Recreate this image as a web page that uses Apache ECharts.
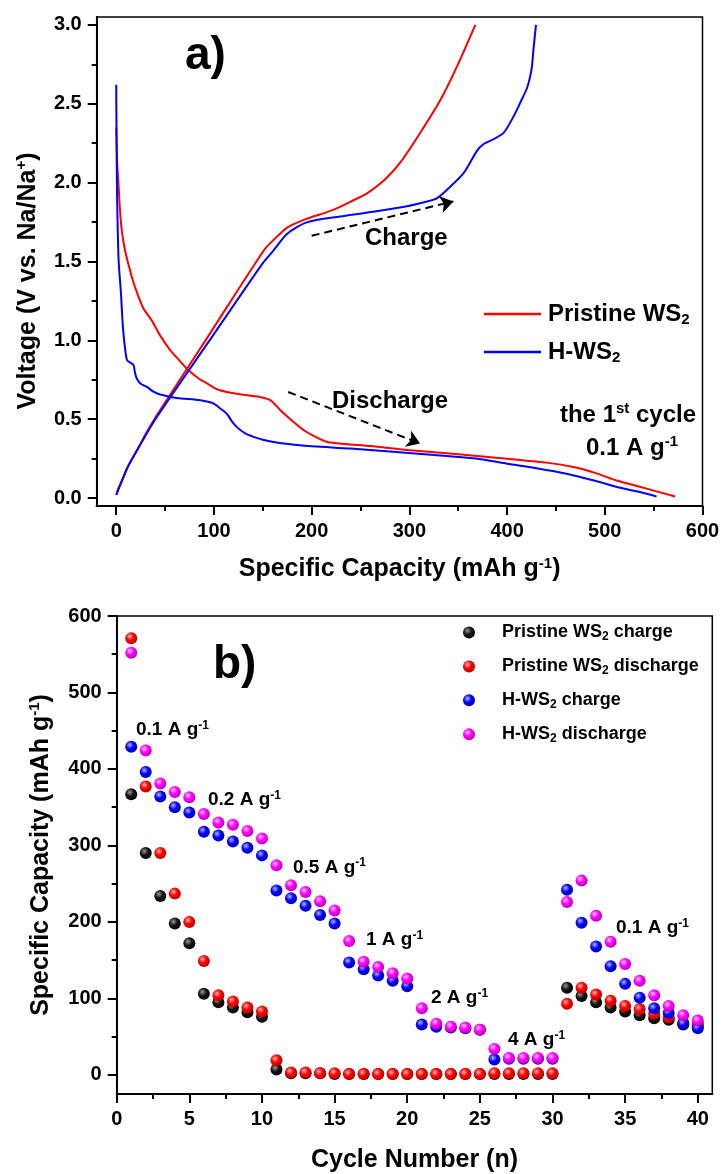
<!DOCTYPE html>
<html><head><meta charset="utf-8">
<script src="https://cdn.jsdelivr.net/npm/echarts@6/dist/echarts.min.js"></script>
<style>html,body{margin:0;padding:0;background:#fff}#c{width:723px;height:1174px}</style>
</head><body><div id="c"></div>
<script>
const FONT = "'Liberation Sans', Arial, sans-serif";

// ---------- (a) charge/discharge profiles: [capacity mAh/g, voltage V] ----------
const pristineDischarge = [[0,2.35],[1,2.12],[2.4,1.98],[4,1.81],[6,1.68],[9,1.57],[13,1.47],[17,1.38],[22,1.29],[28,1.2],[36,1.13],[45,1.03],[55,0.94],[65,0.87],[74,0.81],[85,0.755],[93,0.727],[103,0.69],[113,0.673],[125,0.66],[134,0.652],[148,0.64],[158,0.62],[168,0.557],[180,0.49],[192,0.43],[205,0.385],[216,0.356],[235,0.343],[260,0.33],[301,0.303],[350,0.278],[400,0.25],[440,0.225],[468,0.197],[490,0.16],[512,0.112],[540,0.065],[572,0.01]];
const pristineCharge = [[0,0.02],[2,0.06],[5.8,0.11],[12,0.2],[21,0.3],[30,0.405],[40,0.51],[95,1.035],[151,1.57],[161,1.637],[175,1.715],[192,1.764],[222,1.827],[240,1.88],[257,1.934],[275,2.02],[291,2.13],[311,2.315],[332,2.527],[349,2.74],[367.5,3.0]];
const hDischarge = [[0,2.62],[0.3,2.3],[0.7,2.0],[1.2,1.8],[2.4,1.51],[4.8,1.3],[6.8,1.086],[9,0.95],[11,0.875],[14,0.86],[17.7,0.843],[19,0.8],[21,0.758],[25,0.725],[31.4,0.705],[38,0.675],[45,0.657],[62,0.635],[86,0.62],[99.6,0.6],[106,0.57],[113,0.536],[118,0.49],[123.5,0.45],[132,0.41],[140.5,0.388],[150,0.37],[161,0.356],[188,0.335],[239.5,0.314],[280,0.295],[331.6,0.27],[370,0.25],[400,0.218],[430,0.19],[461,0.155],[490,0.11],[512.5,0.07],[535,0.04],[553,0.01]];
const hCharge = [[0,0.02],[2,0.05],[5.8,0.11],[12,0.2],[21,0.3],[40,0.5],[95,0.995],[150,1.49],[161,1.57],[174.7,1.675],[195,1.748],[229,1.785],[263,1.815],[297.5,1.85],[318,1.88],[328,1.9],[338.5,1.955],[355.5,2.06],[369,2.2],[376,2.245],[386,2.275],[396.4,2.315],[406.7,2.42],[415,2.527],[420.4,2.6],[423.7,2.675],[425.5,2.74],[427,2.845],[429.6,3.0]];
// arrows in data coordinates [capacity, voltage]
const chargeArrow = [[200,1.663],[345,1.881]];
const dischargeArrow = [[176,0.673],[311,0.346]];

const capTicks = [0,100,200,300,400,500,600];
const capMinor = [50,150,250,350,450,550];
const voltTicks = [0,0.5,1.0,1.5,2.0,2.5,3.0];
const voltMinor = [0.25,0.75,1.25,1.75,2.25,2.75];

// ---------- (b) rate performance ----------
const cycles = [1,2,3,4,5,6,7,8,9,10,11,12,13,14,15,16,17,18,19,20,21,22,23,24,25,26,27,28,29,30,31,32,33,34,35,36,37,38,39,40];
const pristineChargeCap = [367,290,234,198,172,106,95,88,82,76, 7,2,2,2,1,1,1,1,1,1, 1,1,1,1,1,1,1,1,1,1, 114,103,95,88,83,78,74,72,66,64];
const pristineDischargeCap = [571,377,290,237,200,149,104,96,88,83, 19,3,3,2,2,1,1,1,1,1, 1,1,1,1,1,2,2,2,2,2, 93,114,105,97,90,86,80,75,68,67];
const hChargeCap = [429,396,364,350,343,318,313,305,297,287, 241,231,221,209,198,147,138,130,123,116, 66,63,62,61,59,20,21,21,21,21, 242,199,168,142,119,101,87,81,67,61];
const hDischargeCap = [552,424,381,370,363,341,330,327,319,309, 274,248,239,227,215,175,148,141,133,126, 87,67,63,62,59,34,22,22,22,22, 226,254,208,174,145,123,104,90,78,71];

const cycTicks = [0,5,10,15,20,25,30,35,40];
const cycMinor = [2.5,7.5,12.5,17.5,22.5,27.5,32.5,37.5];
const specTicks = [0,100,200,300,400,500,600];
const specMinor = [50,150,250,350,450,550];

// ---------- helpers ----------
function rich(small, pad) {
  return {
    sub: {fontSize: small, fontWeight: 'bold', fontFamily: FONT, color: '#000', verticalAlign: 'top', padding: [pad, 0, 0, 0]},
    sup: {fontSize: small, fontWeight: 'bold', fontFamily: FONT, color: '#000', verticalAlign: 'top', padding: [0, 0, pad, 0]}
  };
}
function sphere(light, base, dark) {
  return {type: 'radial', x: 0.38, y: 0.35, r: 0.72,
    colorStops: [{offset: 0, color: light}, {offset: 0.45, color: base}, {offset: 1, color: dark}]};
}
const axisLineStyle = {color: '#000', width: 2};
const labelStyle = {fontSize: 20, fontWeight: 'bold', fontFamily: FONT, color: '#000', margin: 15};
function mainAxis(grid, min, max, ticks, pos, extra) {
  return Object.assign({
    gridIndex: grid, type: 'value', min: min, max: max, position: pos,
    axisLine: {show: true, onZero: false, lineStyle: axisLineStyle},
    axisTick: {show: false},
    axisLabel: Object.assign({customValues: ticks}, labelStyle),
    splitLine: {show: false}, minorTick: {show: false}
  }, extra);
}
function tickAxis(grid, min, max, ticks, pos, len) {
  return {
    gridIndex: grid, type: 'value', min: min, max: max, position: pos,
    axisLine: {show: false, onZero: false},
    axisTick: {show: true, length: len, lineStyle: {color: '#000', width: 2}, customValues: ticks},
    axisLabel: {show: false}, splitLine: {show: false}
  };
}
const nameStyle25 = {fontSize: 25, fontWeight: 'bold', fontFamily: FONT, color: '#000', rich: rich(15, 12)};

const chart = echarts.init(document.getElementById('c'), null, {renderer: 'canvas', width: 723, height: 1174});

function lineSeries(name, data, color, extra) {
  return Object.assign({
    name: name, type: 'line', xAxisIndex: 0, yAxisIndex: 0, data: data,
    symbol: 'none', showSymbol: false, smooth: 0.25,
    lineStyle: {color: color, width: 2}, itemStyle: {color: color},
    emphasis: {disabled: true}, silent: true, z: 3
  }, extra || {});
}
function scatterSeries(name, vals, fill) {
  return {
    name: name, type: 'scatter', xAxisIndex: 3, yAxisIndex: 3,
    data: cycles.map((c, i) => [c, vals[i]]),
    symbol: 'circle', symbolSize: 12,
    itemStyle: {color: fill, opacity: 1},
    emphasis: {disabled: true}, silent: true
  };
}
function arrowLine(a) {
  return [{coord: a[0]}, {coord: a[1]}];
}

const subFmt = name => name.replace('WS2', 'WS{sub|2}');

const option = {
  animation: false,
  backgroundColor: '#fff',
  grid: [
    {left: 96.7, top: 17, width: 605.8, height: 489, show: true, borderColor: '#000', borderWidth: 1.5, backgroundColor: 'transparent'},
    {left: 116.7, top: 616, width: 595.6, height: 480, show: true, borderColor: '#000', borderWidth: 1.5, backgroundColor: 'transparent'}
  ],
  xAxis: [
    mainAxis(0, -20, 600, capTicks, 'bottom', {name: 'Specific Capacity (mAh g{sup|-1})', nameLocation: 'middle', nameGap: 50, nameTextStyle: nameStyle25}),
    tickAxis(0, -20, 600, capTicks, 'bottom', 9),
    tickAxis(0, -20, 600, capMinor, 'bottom', 5),
    mainAxis(1, 0, 41, cycTicks, 'bottom', {name: 'Cycle Number (n)', nameLocation: 'middle', nameGap: 54, nameTextStyle: nameStyle25}),
    tickAxis(1, 0, 41, cycTicks, 'bottom', 9),
    tickAxis(1, 0, 41, cycMinor, 'bottom', 5)
  ],
  yAxis: [
    mainAxis(0, -0.05, 3.05, voltTicks, 'left', {name: 'Voltage (V vs. Na/Na{sup|+})', nameLocation: 'middle', nameGap: 55,
      nameTextStyle: Object.assign({}, nameStyle25, {padding: [0, 39, 0, 0]}),
      axisLabel: Object.assign({customValues: voltTicks, formatter: v => v.toFixed(1)}, labelStyle)}),
    tickAxis(0, -0.05, 3.05, voltTicks, 'left', 9),
    tickAxis(0, -0.05, 3.05, voltMinor, 'left', 5),
    mainAxis(1, -25, 600, specTicks, 'left', {name: 'Specific Capacity (mAh g{sup|-1})', nameLocation: 'middle', nameGap: 62, nameTextStyle: nameStyle25}),
    tickAxis(1, -25, 600, specTicks, 'left', 9),
    tickAxis(1, -25, 600, specMinor, 'left', 5)
  ],
  legend: [
    {
      data: ['Pristine WS2', 'H-WS2'], orient: 'vertical', left: 484, top: 302, padding: 0,
      icon: 'rect', itemWidth: 57, itemHeight: 2.5, itemGap: 12.4, selectedMode: false,
      formatter: subFmt,
      textStyle: {fontSize: 24, fontWeight: 'bold', fontFamily: FONT, color: '#000', padding: [0, 0, 0, 2], rich: rich(15, 12)}
    },
    {
      data: ['Pristine WS2 charge', 'Pristine WS2 discharge', 'H-WS2 charge', 'H-WS2 discharge'],
      orient: 'vertical', left: 463, top: 623.5, icon: 'circle', padding: 0,
      itemWidth: 12, itemHeight: 12, itemGap: 14.4, selectedMode: false,
      formatter: subFmt,
      textStyle: {fontSize: 18, fontWeight: 'bold', fontFamily: FONT, color: '#000', padding: [0, 0, 0, 22], rich: rich(12, 9)}
    }
  ],
  series: [
    lineSeries('Pristine WS2', pristineDischarge, '#ff0000', {
      markLine: {
        silent: true, symbol: ['none', 'arrow'], symbolSize: 13,
        lineStyle: {color: '#000', width: 2, type: [8, 5]}, label: {show: false},
        emphasis: {disabled: true},
        data: [arrowLine(chargeArrow), arrowLine(dischargeArrow)]
      }
    }),
    lineSeries('Pristine WS2', pristineCharge, '#ff0000'),
    lineSeries('H-WS2', hDischarge, '#0000ff'),
    lineSeries('H-WS2', hCharge, '#0000ff'),
    scatterSeries('Pristine WS2 charge', pristineChargeCap, sphere('#9a9a9a', '#151515', '#000000')),
    scatterSeries('Pristine WS2 discharge', pristineDischargeCap, sphere('#ffb4b4', '#ff0000', '#b00000')),
    scatterSeries('H-WS2 charge', hChargeCap, sphere('#b4b4ff', '#0000ff', '#0000a8')),
    scatterSeries('H-WS2 discharge', hDischargeCap, sphere('#ffc0ff', '#ff00ff', '#b000b0'))
  ],
  graphic: (function () {
    const items = [];
    function txt(x, y, text, size, align, small, pad) {
      items.push({type: 'text', x: x, y: y, silent: true, z: 100,
        style: {text: text, fill: '#000', fontSize: size, fontWeight: 'bold', fontFamily: FONT,
          align: align || 'left', verticalAlign: 'middle', rich: rich(small || 14, pad || 10)}});
    }
    txt(185, 56, 'a)', 46);
    txt(213, 665, 'b)', 46);
    txt(365, 238, 'Charge', 24);
    txt(332, 401.7, 'Discharge', 24);
    txt(628, 415, 'the 1{sup|st} cycle', 24, 'center', 15, 12);
    txt(632, 448, '0.1 A g{sup|-1}', 24, 'center', 15, 12);
    txt(136, 730, '0.1 A g{sup|-1}', 19, 'left', 12, 9);
    txt(208, 800, '0.2 A g{sup|-1}', 19, 'left', 12, 9);
    txt(293, 867.5, '0.5 A g{sup|-1}', 19, 'left', 12, 9);
    txt(366, 940, '1 A g{sup|-1}', 19, 'left', 12, 9);
    txt(431, 998, '2 A g{sup|-1}', 19, 'left', 12, 9);
    txt(508, 1040, '4 A g{sup|-1}', 19, 'left', 12, 9);
    txt(616, 928, '0.1 A g{sup|-1}', 19, 'left', 12, 9);
    return items;
  })()
};
chart.setOption(option);
</script></body></html>
